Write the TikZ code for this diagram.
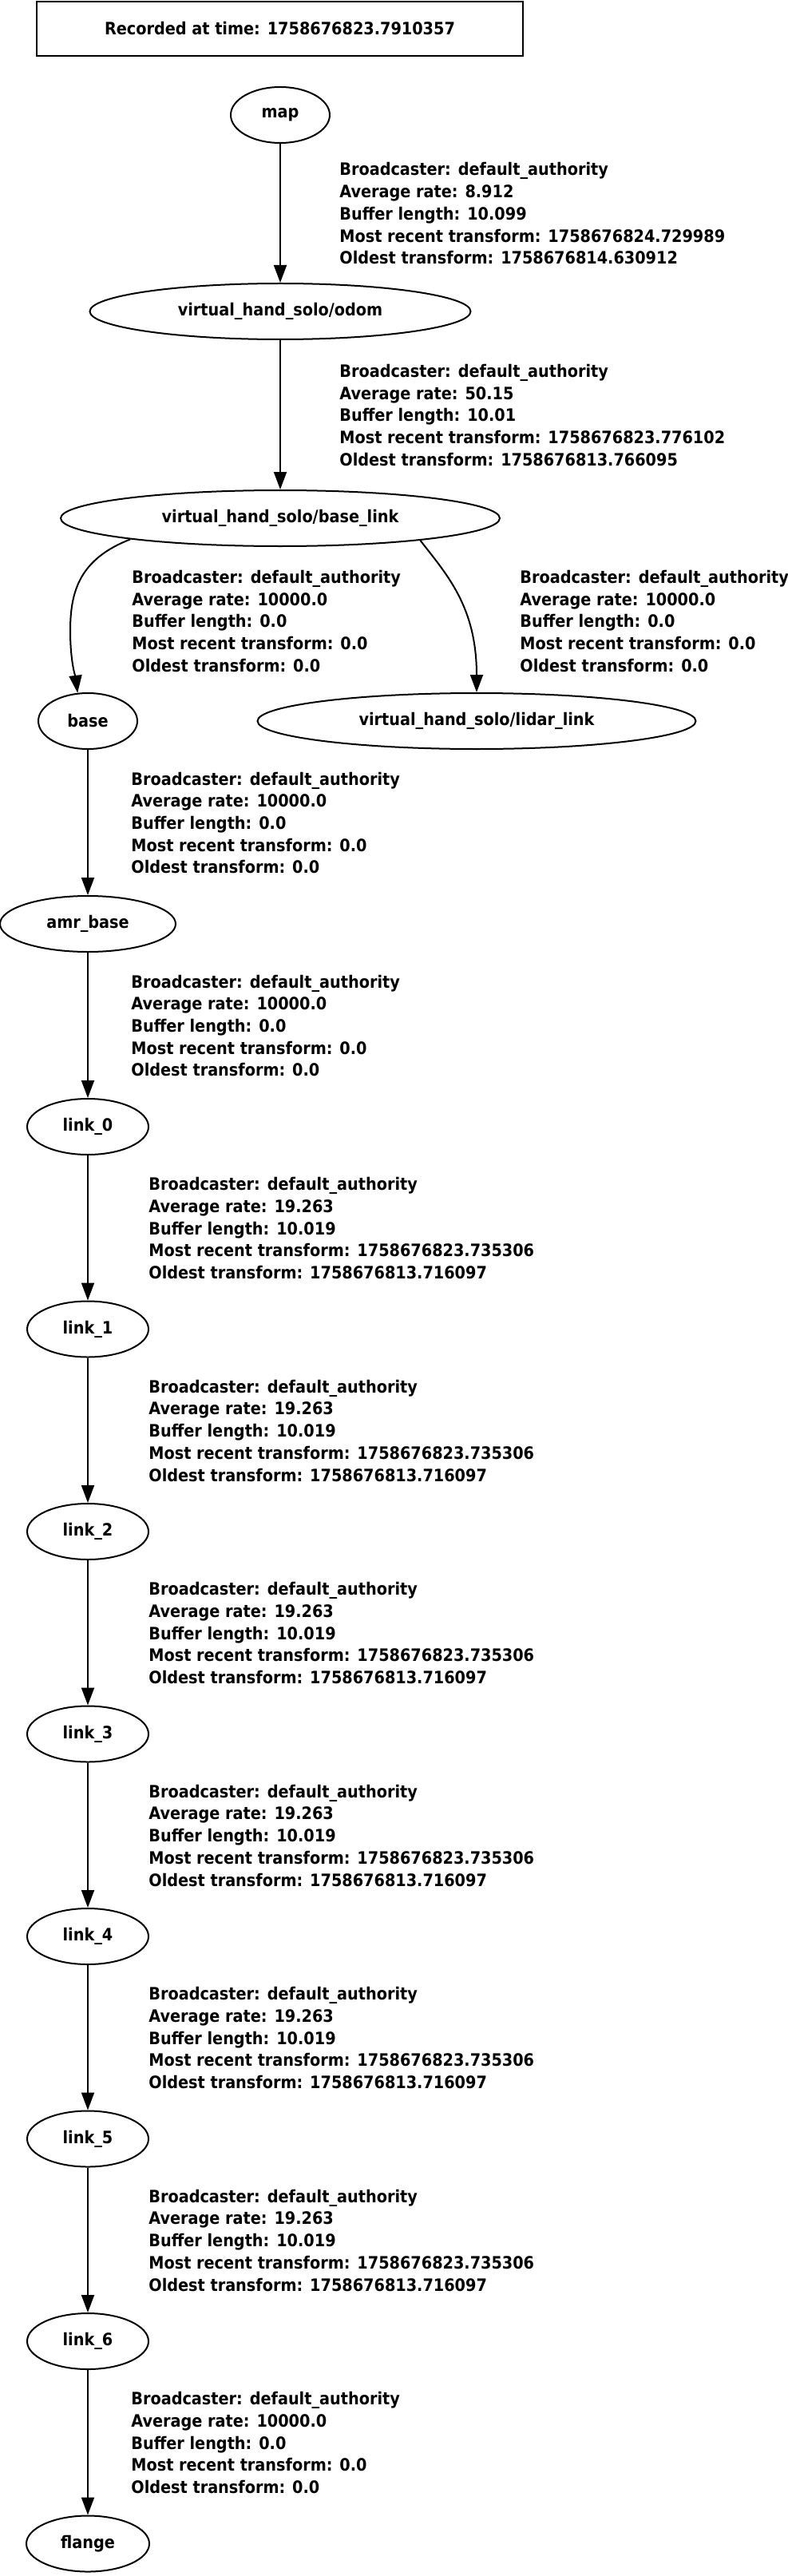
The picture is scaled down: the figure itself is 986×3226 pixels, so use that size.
\documentclass[tikz,border=0pt]{standalone}
\usepackage{fontspec}
\setmainfont{DejaVuSansCondensed-Bold.ttf}
\usetikzlibrary{shapes.geometric,arrows.meta}
\newcommand\tflab[4]{\begin{tabular}[t]{@{}l@{}}Broadcaster: default\_authority\\Average rate: #1\\Buffer length: #2\\Most recent transform: #3\\Oldest transform: #4\end{tabular}}
\begin{document}
\begin{tikzpicture}[x=0.5pt,y=-0.5pt,
  every node/.style={font=\fontsize{10.7pt}{13.85pt}\selectfont},
  fr/.style={draw,ellipse,line width=1pt,inner sep=0pt,minimum height=35pt},
  lab/.style={anchor=base west,inner sep=0pt},
  edge/.style={draw,line width=1pt,-{Triangle[length=11pt,width=8pt]}}]
\useasboundingbox (0,0) rectangle (986,3226);
\node[draw,line width=1pt,minimum width=304.5pt,minimum height=34pt,inner sep=0pt] (title) at (350.5,36) {Recorded at time: 1758676823.7910357};
\node[fr,minimum width=62pt] (map) at (351,144) {map};
\node[fr,minimum width=238.5pt] (odom) at (351,390) {virtual\_hand\_solo/odom};
\node[fr,minimum width=275pt] (bl) at (351,649) {virtual\_hand\_solo/base\_link};
\node[fr,minimum width=62pt] (base) at (110,903) {base};
\node[fr,minimum width=274.5pt] (lidar) at (597,903) {virtual\_hand\_solo/lidar\_link};
\node[fr,minimum width=110pt] (amr) at (110,1157) {amr\_base};
\node[fr,minimum width=76pt] (l0) at (110,1411) {link\_0};
\node[fr,minimum width=76pt] (l1) at (110,1664.5) {link\_1};
\node[fr,minimum width=76pt] (l2) at (110,1918) {link\_2};
\node[fr,minimum width=76pt] (l3) at (110,2171.5) {link\_3};
\node[fr,minimum width=76pt] (l4) at (110,2425) {link\_4};
\node[fr,minimum width=76pt] (l5) at (110,2678.5) {link\_5};
\node[fr,minimum width=76pt] (l6) at (110,2932) {link\_6};
\node[fr,minimum width=77pt] (fl) at (110,3185.5) {flange};
% edges
\draw[edge] (map) -- (odom);
\draw[edge] (odom) -- (bl);
\draw[edge] (bl.188) .. controls (100,700) and (88,740) .. (88,790) .. controls (88,830) and (95,850) .. (base.110);
\draw[edge] (bl.-9) .. controls (560,720) and (597,760) .. (lidar.north);
\draw[edge] (base) -- (amr);
\draw[edge] (amr) -- (l0);
\draw[edge] (l0) -- (l1);
\draw[edge] (l1) -- (l2);
\draw[edge] (l2) -- (l3);
\draw[edge] (l3) -- (l4);
\draw[edge] (l4) -- (l5);
\draw[edge] (l5) -- (l6);
\draw[edge] (l6) -- (fl);
% labels
\node[lab] (t1) at (425,220) {\tflab{8.912}{10.099}{1758676824.729989}{1758676814.630912}};
\node[lab] (t2) at (425,472.5) {\tflab{50.15}{10.01}{1758676823.776102}{1758676813.766095}};
\node[lab] (t3) at (165,730.5) {\tflab{10000.0}{0.0}{0.0}{0.0}};
\node[lab] (t4) at (651,730.5) {\tflab{10000.0}{0.0}{0.0}{0.0}};
\node[lab] (t5) at (164,983) {\tflab{10000.0}{0.0}{0.0}{0.0}};
\node[lab] (t6) at (164,1237) {\tflab{10000.0}{0.0}{0.0}{0.0}};
\node[lab] (t7) at (186,1490.75) {\tflab{19.263}{10.019}{1758676823.735306}{1758676813.716097}};
\node[lab] (t8) at (186,1744.25) {\tflab{19.263}{10.019}{1758676823.735306}{1758676813.716097}};
\node[lab] (t9) at (186,1997.75) {\tflab{19.263}{10.019}{1758676823.735306}{1758676813.716097}};
\node[lab] (t10) at (186,2251.25) {\tflab{19.263}{10.019}{1758676823.735306}{1758676813.716097}};
\node[lab] (t11) at (186,2504.75) {\tflab{19.263}{10.019}{1758676823.735306}{1758676813.716097}};
\node[lab] (t12) at (186,2758.25) {\tflab{19.263}{10.019}{1758676823.735306}{1758676813.716097}};
\node[lab] (t13) at (164,3011.75) {\tflab{10000.0}{0.0}{0.0}{0.0}};
\end{tikzpicture}
\end{document}
